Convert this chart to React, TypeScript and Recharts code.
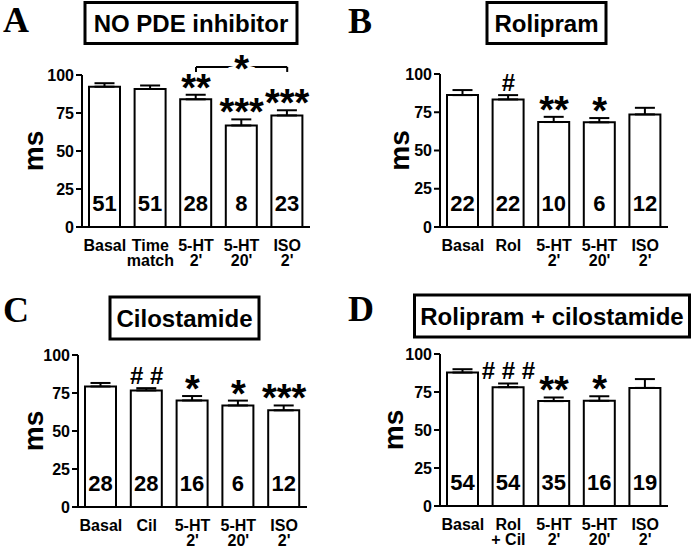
import React from 'react';
import { ComposedChart, Bar, Line, XAxis, YAxis, ErrorBar, LabelList, ReferenceLine } from 'recharts';

const FONT = '"Liberation Sans", Arial, Helvetica, sans-serif';
const SERIF = '"Liberation Serif", "Times New Roman", serif';

// panel A: no PDE inhibitor
const categoriesA = ['Basal', 'Time\nmatch', "5-HT\n2'", "5-HT\n20'", "ISO\n2'"];
const meanA = [92.3, 90.8, 84, 66.8, 73.4];
const semA = [2.3, 2.3, 3, 4, 3.4];
const nA = [51, 51, 28, 8, 23];
const sigA = ['', '', '**', '***', '***'];
const bracketA = { from: 2, to: 4, y: 105.3, tickEnd: 102, label: '*' };

// panel B: rolipram
const categoriesB = ['Basal', 'Rol', "5-HT\n2'", "5-HT\n20'", "ISO\n2'"];
const meanB = [86.2, 83.4, 68.6, 68.4, 73.6];
const semB = [3.3, 2.8, 3.4, 2.8, 4.3];
const nB = [22, 22, 10, 6, 12];
const sigB = ['', '#', '**', '*', ''];

// panel C: cilostamide
const categoriesC = ['Basal', 'Cil', "5-HT\n2'", "5-HT\n20'", "ISO\n2'"];
const meanC = [79.3, 76.7, 70.1, 66.8, 63.6];
const semC = [2.3, 1.5, 2.9, 3.2, 3.2];
const nC = [28, 28, 16, 6, 12];
const sigC = ['', '# #', '*', '*', '***'];

// panel D: rolipram + cilostamide
const categoriesD = ['Basal', 'Rol\n+ Cil', "5-HT\n2'", "5-HT\n20'", "ISO\n2'"];
const meanD = [87.8, 78.2, 69, 69.2, 77.7];
const semD = [2.2, 2.4, 2.4, 3, 5.8];
const nD = [54, 54, 35, 16, 19];
const sigD = ['', '# # #', '**', '*', ''];

const yTicks = [0, 25, 50, 75, 100];

const build = (cats: string[], mean: number[], sem: number[], n: number[], sig: string[]) =>
  cats.map((c, i) => ({ name: c, mean: mean[i], err: [0, sem[i]], top: mean[i] + sem[i], n: n[i], sig: sig[i] }));

const vbOf = (p: any) => (p.viewBox && p.viewBox.x != null ? p.viewBox : p);

function XTick({ x, y, payload }: any) {
  const lines = String(payload.value).split('\n');
  return (
    <text x={x} y={y} textAnchor="middle" fontFamily={FONT} fontWeight="bold" fontSize={16} fill="#000">
      {lines.map((l, i) => (
        <tspan key={i} x={x} dy={15.5}>{l}</tspan>
      ))}
    </text>
  );
}

function NLabel(p: any) {
  const vb = vbOf(p);
  return (
    <text x={vb.x + vb.width / 2} y={vb.y + vb.height - 16} textAnchor="middle" fontFamily={FONT} fontWeight="bold" fontSize={22} fill="#000">
      {p.value}
    </text>
  );
}

function SigLabel(p: any) {
  if (!p.value) return null;
  const vb = vbOf(p);
  const hash = String(p.value).includes('#');
  return (
    <text x={vb.x} y={hash ? vb.y - 4 : vb.y + 6} textAnchor="middle" fontFamily={FONT} fontWeight="bold" fontSize={hash ? 24 : 38} fill="#000">
      {p.value}
    </text>
  );
}

function BracketStar(p: any) {
  const vb = vbOf(p);
  return (
    <text x={vb.x + (vb.width || 0) / 2} y={vb.y + 15} textAnchor="middle" fontFamily={FONT} fontWeight="bold" fontSize={38} fill="#000" stroke="#fff" strokeWidth={10} paintOrder="stroke">
      *
    </text>
  );
}

const panels = [
  { letter: 'A', title: 'NO PDE inhibitor', data: build(categoriesA, meanA, semA, nA, sigA), cats: categoriesA, bracket: bracketA,
    left: 0, top: 0, yWidth: 82, right: 36, mTop: 75, xHeight: 47, msX: 43,
    box: { x: 85, y: 2.5, w: 212, h: 41 }, lx: 3, ly: 32 },
  { letter: 'B', title: 'Rolipram', data: build(categoriesB, meanB, semB, nB, sigB), cats: categoriesB, bracket: null,
    left: 346, top: 0, yWidth: 94, right: 24, mTop: 74, xHeight: 47, msX: 409 - 346,
    box: { x: 487, y: 2.5, w: 119, h: 41 }, lx: 348, ly: 33 },
  { letter: 'C', title: 'Cilostamide', data: build(categoriesC, meanC, semC, nC, sigC), cats: categoriesC, bracket: null,
    left: 0, top: 274, yWidth: 78, right: 39, mTop: 81, xHeight: 41, msX: 43,
    box: { x: 110, y: 297, w: 149, h: 42 }, lx: 3, ly: 322 },
  { letter: 'D', title: 'Rolipram + cilostamide', data: build(categoriesD, meanD, semD, nD, sigD), cats: categoriesD, bracket: null,
    left: 346, top: 274, yWidth: 94, right: 24, mTop: 80, xHeight: 42, msX: 403 - 346,
    box: { x: 414.5, y: 295, w: 275, h: 42 }, lx: 348, ly: 321 },
];

function Panel({ cfg }: { cfg: (typeof panels)[number] }) {
  const b = cfg.bracket;
  const axisStroke = { stroke: '#000', strokeWidth: 2 };
  return (
    <div style={{ position: 'absolute', left: cfg.left, top: cfg.top }}>
      <ComposedChart width={346} height={274} data={cfg.data} margin={{ top: cfg.mTop, right: cfg.right, left: 0, bottom: 0 }}>
        <XAxis dataKey="name" interval={0} tickLine={false} axisLine={axisStroke} height={cfg.xHeight} tick={<XTick />} />
        <YAxis
          domain={[0, 100]}
          ticks={yTicks}
          interval={0}
          width={cfg.yWidth}
          tickSize={6}
          axisLine={axisStroke}
          tickLine={axisStroke}
          tick={{ fill: '#000', fontSize: 16, fontWeight: 'bold', fontFamily: FONT }}
          label={{
            value: 'ms',
            content: (p: any) => {
              const vb = vbOf(p);
              const cy = vb.y + vb.height / 2;
              return (
                <text transform={`translate(${cfg.msX},${cy}) rotate(-90)`} textAnchor="middle" fontFamily={FONT} fontWeight="bold" fontSize={28} fill="#000">
                  ms
                </text>
              );
            },
          }}
        />
        <Bar dataKey="mean" fill="#fff" stroke="#000" strokeWidth={2} barSize={31} isAnimationActive={false}>
          <ErrorBar dataKey="err" width={10} stroke="#000" strokeWidth={2} direction="y" />
          <LabelList dataKey="n" content={NLabel} />
        </Bar>
        <Line dataKey="top" stroke="none" dot={false} activeDot={false} legendType="none" isAnimationActive={false}>
          <LabelList dataKey="sig" content={SigLabel} />
        </Line>
        {b && (
          <ReferenceLine
            segment={[{ x: cfg.cats[b.from], y: b.y }, { x: cfg.cats[b.to], y: b.y }]}
            stroke="#000"
            strokeWidth={2}
            ifOverflow="visible"
            label={{ value: b.label, content: BracketStar }}
          />
        )}
        {b && (
          <ReferenceLine segment={[{ x: cfg.cats[b.from], y: b.y }, { x: cfg.cats[b.from], y: b.tickEnd }]} stroke="#000" strokeWidth={2} ifOverflow="visible" />
        )}
        {b && (
          <ReferenceLine segment={[{ x: cfg.cats[b.to], y: b.y }, { x: cfg.cats[b.to], y: b.tickEnd }]} stroke="#000" strokeWidth={2} ifOverflow="visible" />
        )}
      </ComposedChart>
    </div>
  );
}

export default function App() {
  return (
    <div style={{ position: 'absolute', left: 0, top: 0, width: 692, height: 548, background: '#fff' }}>
      {panels.map((p) => (
        <Panel key={p.letter} cfg={p} />
      ))}
      <svg width={692} height={548} style={{ position: 'absolute', left: 0, top: 0, pointerEvents: 'none' }}>
        {panels.map((p) => (
          <g key={p.letter}>
            <text x={p.lx} y={p.ly} fontFamily={SERIF} fontWeight="bold" fontSize={36} fill="#000">{p.letter}</text>
            <rect x={p.box.x} y={p.box.y} width={p.box.w} height={p.box.h} fill="none" stroke="#000" strokeWidth={3} />
            <text x={p.box.x + p.box.w / 2} y={p.box.y + p.box.h / 2 + 9} textAnchor="middle" fontFamily={FONT} fontWeight="bold" fontSize={24} fill="#000">
              {p.title}
            </text>
          </g>
        ))}
      </svg>
    </div>
  );
}
